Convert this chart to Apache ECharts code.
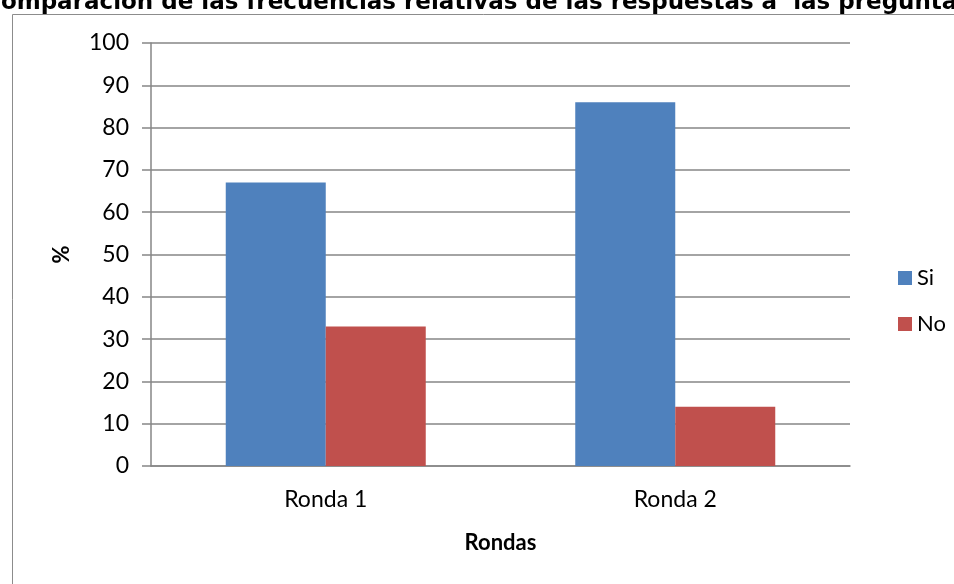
<!DOCTYPE html>
<html>
<head>
<meta charset="utf-8">
<script src="https://cdn.jsdelivr.net/npm/echarts@6/dist/echarts.min.js"></script>
<style>
  html, body { margin: 0; padding: 0; background: #fff; }
  #chart { width: 954px; height: 584px; }
</style>
</head>
<body>
<div id="chart"></div>
<script>
// datos
var rondas = ['Ronda 1', 'Ronda 2'];
var si = [67, 86];
var no = [33, 14];
var yTicks = [0, 10, 20, 30, 40, 50, 60, 70, 80, 90, 100];
var titulo = 'Comparación de las frecuencias relativas de las respuestas a  las preguntas';

var myChart = echarts.init(document.getElementById('chart'));
var FONT = 'Lato';
var GRAY = '#868686';

var option = {
  animation: false,
  graphic: [
    {
      // marco exterior del grafico (se sale por la derecha y abajo)
      type: 'rect',
      shape: { x: 12.5, y: 14.5, width: 1000, height: 700 },
      style: { fill: 'none', stroke: '#8c8c8c', lineWidth: 1 },
      z: -1
    },
    {
      // titulo recortado arriba
      type: 'text',
      x: -16,
      y: 3,
      style: {
        text: titulo,
        fontFamily: 'DejaVu Sans',
        fontWeight: 'bold',
        fontSize: 23,
        fill: '#000',
        align: 'left',
        verticalAlign: 'middle'
      },
      z: 10
    }
  ],
  legend: {
    orient: 'vertical',
    left: 893,
    top: 262,
    itemWidth: 14,
    itemHeight: 14,
    itemGap: 24,
    icon: 'rect',
    textStyle: { fontFamily: FONT, fontSize: 22, color: '#000' },
    data: ['Si', 'No']
  },
  grid: {
    left: 151,
    top: 43,
    width: 699,
    height: 423
  },
  xAxis: {
    type: 'category',
    data: rondas,
    axisLine: { lineStyle: { color: GRAY, width: 1.5 } },
    axisTick: { show: false },
    axisLabel: { fontFamily: FONT, fontSize: 23, color: '#000', margin: 22 },
    name: 'Rondas',
    nameLocation: 'middle',
    nameGap: 66,
    nameTextStyle: { fontFamily: FONT, fontSize: 22, fontWeight: 'bold', color: '#000' }
  },
  yAxis: {
    type: 'value',
    min: yTicks[0],
    max: yTicks[yTicks.length - 1],
    interval: 10,
    axisLine: { show: true, lineStyle: { color: GRAY, width: 1.5 } },
    axisTick: { show: true, length: 9, lineStyle: { color: GRAY, width: 1.5 } },
    splitLine: { lineStyle: { color: GRAY, width: 1.5 } },
    axisLabel: { fontFamily: FONT, fontSize: 23, color: '#000', margin: 22 },
    name: '%',
    nameLocation: 'middle',
    nameGap: 78,
    nameRotate: 90,
    nameTextStyle: { fontFamily: FONT, fontSize: 22, fontWeight: 'bold', color: '#000' }
  },
  series: [
    {
      name: 'Si',
      type: 'bar',
      data: si,
      barWidth: 100,
      barGap: '0%',
      itemStyle: { color: '#4f81bd' }
    },
    {
      name: 'No',
      type: 'bar',
      data: no,
      barWidth: 100,
      barGap: '0%',
      itemStyle: { color: '#c0504d' }
    }
  ]
};

myChart.setOption(option);
</script>
</body>
</html>
